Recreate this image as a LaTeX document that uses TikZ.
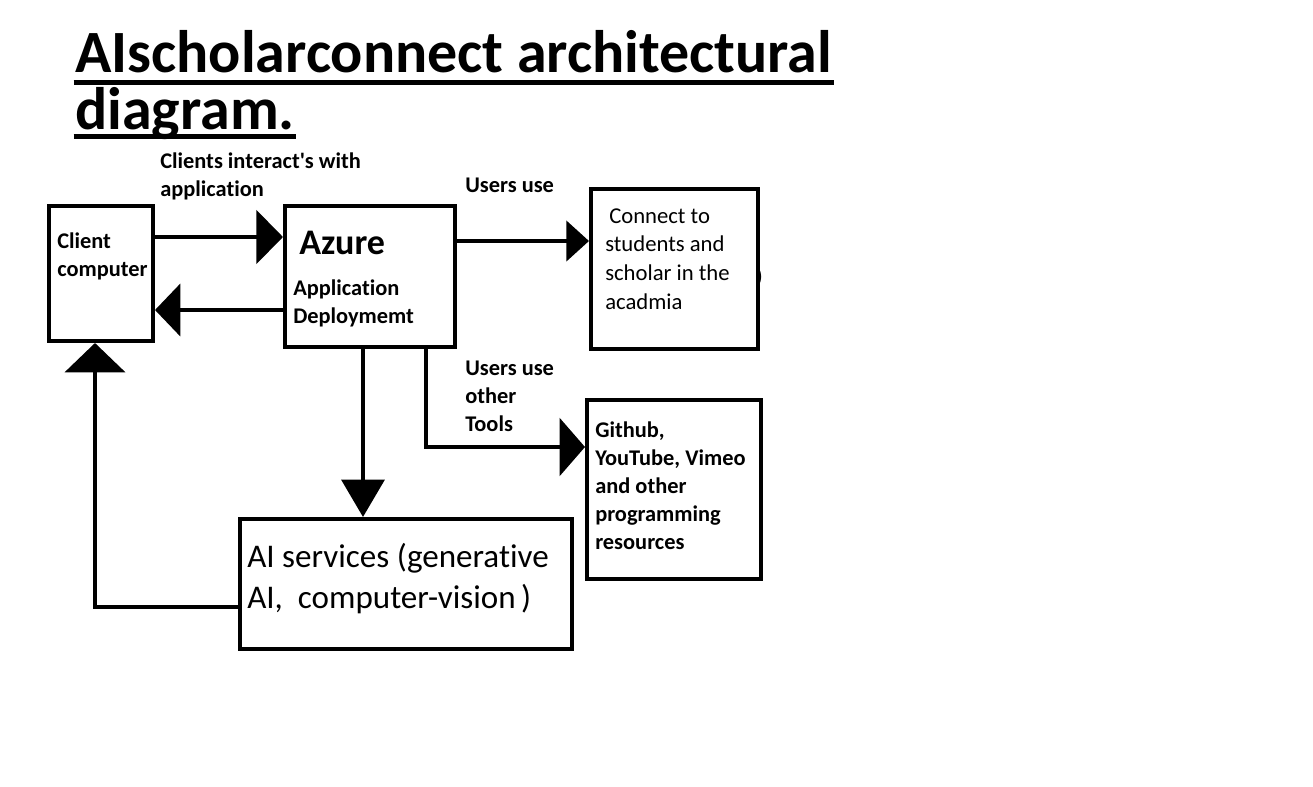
\documentclass[tikz,border=0pt]{standalone}
\usepackage{fontspec}
\setmainfont{Carlito}[Ligatures={TeXOff,NoCommon}]
\usetikzlibrary{arrows.meta,fit}
\tikzset{
  box/.style={draw=black, line width=3pt, inner sep=0pt, fill=none},
  conn/.style={draw=black, line width=3.3pt},
  lbl/.style={inner sep=0pt, anchor=base west, align=left},
  smallbold/.style={lbl, font=\fontsize{16.8pt}{21pt}\selectfont\bfseries},
  titlefont/.style={lbl, font=\fontsize{45pt}{39pt}\selectfont\bfseries},
  uline/.style={draw=black, line width=3.8pt}
}
\begin{document}
\begin{tikzpicture}[x=0.75pt,y=-0.75pt]
\useasboundingbox[fill=white] (0,0) rectangle (1313,786);

% title
\node[titlefont] (t1) at (75,72) {AIscholarconnect architectural};
\node[titlefont] (t2) at (75,129) {diagram.};
\draw[uline] ([yshift=-8pt,xshift=-1pt]t1.base west) -- ([yshift=-8pt,xshift=1pt]t1.base east);
\draw[uline] ([yshift=-5.5pt,xshift=-1pt]t2.base west) -- ([yshift=-5.5pt,xshift=1pt]t2.base east);

% stray parenthesis beside the connect box
\node[lbl, font=\fontsize{16pt}{21pt}\selectfont] (paren) at (756,283) {)};

% boxes
\node[box, fit={(49,206) (153,341)}] (client) {};
\node[box, fit={(285,206) (455,347)}] (azure) {};
\node[box, fit={(591,189) (758,349)}] (connect) {};
\node[box, fit={(587,400) (761,579)}] (github) {};
\node[box, fit={(240,519) (572,649)}] (ai) {};

% texts (anchored at the baseline of their last line)
\node[smallbold] (lclient) at (57,276) {Client\\computer};
\node[lbl, font=\fontsize{27pt}{30pt}\selectfont\bfseries] (lazure) at (299,254) {Azure};
\node[smallbold] (lapp) at (293,323) {Application\\Deploymemt};
\node[lbl, font=\fontsize{17pt}{21.5pt}\selectfont] (lconnect) at (605,309) {\hspace*{3pt}Connect to\\students and\\scholar in the\\acadmia};
\node[smallbold] (lgithub) at (595,549) {Github,\\YouTube, Vimeo\\and other\\programming\\resources};
\node[lbl, font=\fontsize{24.8pt}{30.75pt}\selectfont] (lai) at (247,608) {AI services (generative\\AI,\ \ computer-vision\,)};

\node[smallbold] (lci) at (160,196) {Clients interact's with\\application};
\node[smallbold] (luse1) at (465,192) {Users use};
\node[smallbold] (luse2) at (465,431) {Users use\\other\\Tools};

% connectors
\coordinate (y1) at (0,237);
\coordinate (y2) at (0,310);
\coordinate (y3) at (0,241);
\coordinate (x4) at (363,0);
\coordinate (x5) at (426,0);
\coordinate (y5) at (0,447);
\coordinate (y6) at (0,607);
\coordinate (x6) at (95,0);

\draw[conn, -{Triangle[length=20pt,width=40pt]}] (client.east |- y1) -- (azure.west |- y1);
\draw[conn, -{Triangle[length=19pt,width=39pt]}] (azure.west |- y2) -- (client.east |- y2);
\draw[conn, -{Triangle[length=17pt,width=30pt]}] (azure.east |- y3) -- (connect.west |- y3);
\draw[conn, -{Triangle[length=28pt,width=32pt]}] (azure.south -| x4) -- (ai.north -| x4);
\draw[conn, -{Triangle[length=19pt,width=43pt]}] (azure.south -| x5) |- (github.west |- y5);
\draw[conn, -{Triangle[length=22pt,width=45pt]}] (ai.west |- y6) -| (client.south -| x6);
\end{tikzpicture}
\end{document}
